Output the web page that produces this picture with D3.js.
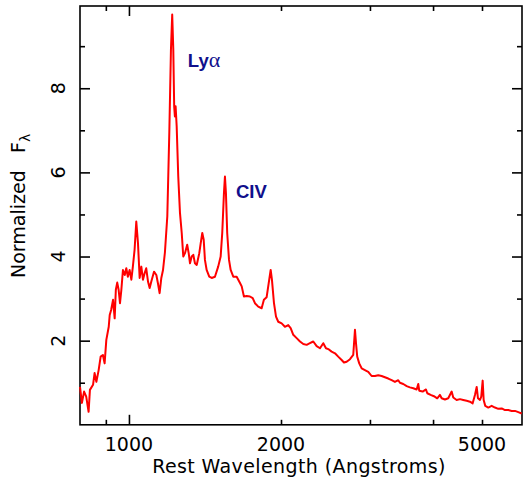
<!DOCTYPE html>
<html>
<head>
<meta charset="utf-8">
<script src="https://cdn.jsdelivr.net/npm/d3@7"></script>
<style>
  html, body { margin: 0; padding: 0; background: #fff; }
  svg { display: block; }
  .frame { fill: none; stroke: #000; stroke-width: 1.6; }
  .tick line { stroke: #000; stroke-width: 1.6; }
  .axis-text { font-family: "DejaVu Sans", sans-serif; font-size: 19px; fill: #000; }
  .line-label { font-family: "Liberation Sans", Arial, sans-serif; font-weight: bold; font-size: 18.5px; fill: #10108c; }
  .greek { font-family: "Liberation Serif", serif; font-weight: normal; font-size: 22px; }
</style>
</head>
<body>
<div id="chart"></div>
<script>
// rest wavelength (Angstroms) / normalized flux
const wavelength = [
    800, 807, 815, 823, 832, 837, 849, 855, 862, 871, 879, 888, 895, 902, 912, 916,
    922, 930, 937, 942, 948, 954, 960, 966, 973, 981, 988, 995, 1003, 1011, 1018, 1026,
    1034, 1042, 1050, 1058, 1066, 1074, 1082, 1091, 1099, 1107, 1121, 1133, 1141, 1150, 1159, 1168,
    1178, 1191, 1202, 1211, 1218, 1224, 1229, 1233, 1237, 1243, 1252, 1262, 1272, 1281, 1291, 1304,
    1313, 1321, 1331, 1341, 1351, 1362, 1378, 1387, 1397, 1406, 1414, 1425, 1442, 1458, 1480, 1502,
    1519, 1530, 1542, 1549, 1556, 1565, 1578, 1590, 1609, 1634, 1659, 1672, 1689, 1710, 1736, 1758,
    1776, 1803, 1831, 1850, 1873, 1891, 1908, 1919, 1937, 1955, 1975, 2006, 2036, 2067, 2090, 2115,
    2148, 2181, 2214, 2248, 2282, 2317, 2353, 2389, 2425, 2455, 2481, 2519, 2558, 2596, 2637, 2665,
    2698, 2739, 2780, 2802, 2815, 2831, 2857, 2889, 2932, 2977, 3023, 3069, 3116, 3164, 3212, 3261,
    3312, 3362, 3413, 3440, 3492, 3547, 3600, 3655, 3712, 3739, 3756, 3815, 3873, 3896, 3956, 4016,
    4077, 4128, 4160, 4223, 4287, 4354, 4386, 4454, 4522, 4590, 4662, 4733, 4791, 4842, 4880, 4909,
    4954, 4983, 5015, 5038, 5075, 5145, 5225, 5304, 5385, 5469, 5552, 5636, 5724, 5811, 5899, 5991
];
const flux = [
    0.90, 0.52, 0.79, 0.67, 0.31, 0.83, 0.95, 1.23, 1.02, 1.30, 1.62, 1.66, 1.46, 2.02, 2.33, 2.61,
    2.73, 2.97, 2.53, 3.21, 3.38, 3.21, 2.89, 3.21, 3.68, 3.56, 3.72, 3.52, 3.68, 3.45, 3.76, 4.16,
    4.83, 4.32, 3.49, 3.76, 3.45, 3.60, 3.72, 3.40, 3.25, 3.40, 3.64, 3.56, 3.37, 3.13, 3.49, 3.68,
    4.09, 4.95, 6.95, 8.92, 9.75, 8.92, 7.57, 7.33, 7.57, 7.10, 5.90, 5.03, 4.56, 4.00, 4.08, 4.28,
    4.08, 3.84, 4.00, 4.04, 3.84, 3.80, 4.08, 4.32, 4.56, 4.40, 3.92, 3.68, 3.52, 3.49, 3.52, 3.76,
    4.00, 4.56, 5.51, 5.90, 5.51, 4.56, 3.92, 3.68, 3.52, 3.52, 3.37, 3.29, 3.05, 3.06, 3.05, 3.01,
    2.89, 2.81, 2.77, 2.97, 3.03, 3.37, 3.68, 3.45, 2.89, 2.57, 2.45, 2.41, 2.33, 2.37, 2.30, 2.14,
    2.06, 1.98, 1.92, 1.90, 1.94, 1.98, 1.87, 1.82, 1.94, 1.82, 1.80, 1.74, 1.70, 1.62, 1.54, 1.48,
    1.50, 1.56, 1.66, 2.26, 1.94, 1.62, 1.46, 1.34, 1.30, 1.26, 1.16, 1.16, 1.18, 1.16, 1.13, 1.10,
    1.06, 1.02, 1.06, 1.00, 0.97, 0.92, 0.89, 0.87, 0.84, 0.97, 0.81, 0.79, 0.84, 0.75, 0.71, 0.68,
    0.63, 0.71, 0.63, 0.60, 0.63, 0.79, 0.65, 0.59, 0.61, 0.59, 0.57, 0.55, 0.51, 0.71, 0.90, 0.63,
    0.59, 0.67, 1.05, 0.59, 0.45, 0.41, 0.45, 0.41, 0.38, 0.39, 0.35, 0.35, 0.33, 0.33, 0.30, 0.27
];

const xMajorTicks = [1000];
const xMinorTicks = [900, 2000, 3000, 4000, 5000];
const xTickLabels = [1000, 2000, 5000];
const yMajorTicks = [2, 4, 6, 8];
const yMinorTicks = [1, 3, 5, 7, 9];
const yTickLabels = [2, 4, 6, 8];

const lineNames = ['Ly', 'CIV'];
const lineGreek = ['\u03b1', ''];
const lineLabelWave = [1308, 1629];
const lineLabelFlux = [8.5, 5.39];

class SpectrumPlot {
    constructor(el) {
        this.svg = d3.select(el)
            .append('svg')
            .attr('width', SpectrumPlot.WIDTH)
            .attr('height', SpectrumPlot.HEIGHT);

        const m = SpectrumPlot.MARGIN;
        this.x = d3.scaleLog()
            .domain([800, 6000])
            .range([m.left, SpectrumPlot.WIDTH - m.right]);
        this.y = d3.scaleLinear()
            .domain([0, 9.955])
            .range([SpectrumPlot.HEIGHT - m.bottom, m.top]);
    }

    draw() {
        this.addFrame();
        this.addSpectrum();
        this.addLabels();
    }

    tickAxis(axis, values, size, transform) {
        this.svg.append('g')
            .attr('transform', transform)
            .call(axis.tickValues(values).tickSize(-size).tickSizeOuter(0).tickFormat(''))
            .call((g) => g.select('.domain').remove());
    }

    addFrame() {
        const [x0, x1] = this.x.range();
        const [y0, y1] = this.y.range();
        const big = SpectrumPlot.MAJOR_TICK;
        const small = SpectrumPlot.MINOR_TICK;

        this.tickAxis(d3.axisBottom(this.x), xMajorTicks, big, `translate(0,${y0})`);
        this.tickAxis(d3.axisBottom(this.x), xMinorTicks, small, `translate(0,${y0})`);
        this.tickAxis(d3.axisTop(this.x), xMajorTicks, big, `translate(0,${y1})`);
        this.tickAxis(d3.axisTop(this.x), xMinorTicks, small, `translate(0,${y1})`);
        this.tickAxis(d3.axisLeft(this.y), yMajorTicks, big, `translate(${x0},0)`);
        this.tickAxis(d3.axisLeft(this.y), yMinorTicks, small, `translate(${x0},0)`);
        this.tickAxis(d3.axisRight(this.y), yMajorTicks, big, `translate(${x1},0)`);
        this.tickAxis(d3.axisRight(this.y), yMinorTicks, small, `translate(${x1},0)`);

        this.svg.append('rect')
            .attr('class', 'frame')
            .attr('x', x0)
            .attr('y', y1)
            .attr('width', x1 - x0)
            .attr('height', y0 - y1);

        this.svg.selectAll('.x-label')
            .data(xTickLabels)
            .join('text')
            .attr('class', 'axis-text x-label')
            .attr('x', (d) => this.x(d))
            .attr('y', y0 + 26)
            .attr('text-anchor', 'middle')
            .text((d) => d);

        this.svg.selectAll('.y-label')
            .data(yTickLabels)
            .join('text')
            .attr('class', 'axis-text y-label')
            .attr('transform', (d) => `translate(${x0 - 15},${this.y(d)}) rotate(-90)`)
            .attr('text-anchor', 'middle')
            .text((d) => d);

        this.svg.append('text')
            .attr('class', 'axis-text')
            .attr('x', (x0 + x1) / 2 - 2)
            .attr('y', y0 + 48)
            .attr('text-anchor', 'middle')
            .style('letter-spacing', '0.4px')
            .text('Rest Wavelength (Angstroms)');

        // rotated y title with subscript lambda
        const title = this.svg.append('text')
            .attr('class', 'axis-text')
            .attr('transform', `translate(25,278) rotate(-90)`);
        title.append('tspan').text('Normalized');
        title.append('tspan').attr('x', 125).text('F');
        title.append('tspan')
            .attr('dy', 5)
            .style('font-size', '14px')
            .text('\u03bb');
    }

    addSpectrum() {
        const pts = wavelength.map((w, i) => [w, flux[i]]);
        const line = d3.line()
            .x((d) => this.x(d[0]))
            .y((d) => this.y(d[1]));

        this.svg.append('path')
            .datum(pts)
            .attr('d', line)
            .attr('fill', 'none')
            .attr('stroke', '#ff0000')
            .attr('stroke-width', 2)
            .attr('stroke-linejoin', 'round');
    }

    addLabels() {
        const labels = this.svg.selectAll('.line-label')
            .data(lineNames)
            .join('text')
            .attr('class', 'line-label')
            .attr('x', (_d, i) => this.x(lineLabelWave[i]))
            .attr('y', (_d, i) => this.y(lineLabelFlux[i]));
        labels.append('tspan').text((d) => d);
        labels.append('tspan')
            .attr('class', 'greek')
            .text((_d, i) => lineGreek[i]);
    }
}

SpectrumPlot.WIDTH = 523;
SpectrumPlot.HEIGHT = 481;
SpectrumPlot.MARGIN = {top: 6, right: 1, bottom: 56.2, left: 80};
SpectrumPlot.MAJOR_TICK = 10;  // in pixels
SpectrumPlot.MINOR_TICK = 5;

new SpectrumPlot('#chart').draw();
</script>
</body>
</html>
